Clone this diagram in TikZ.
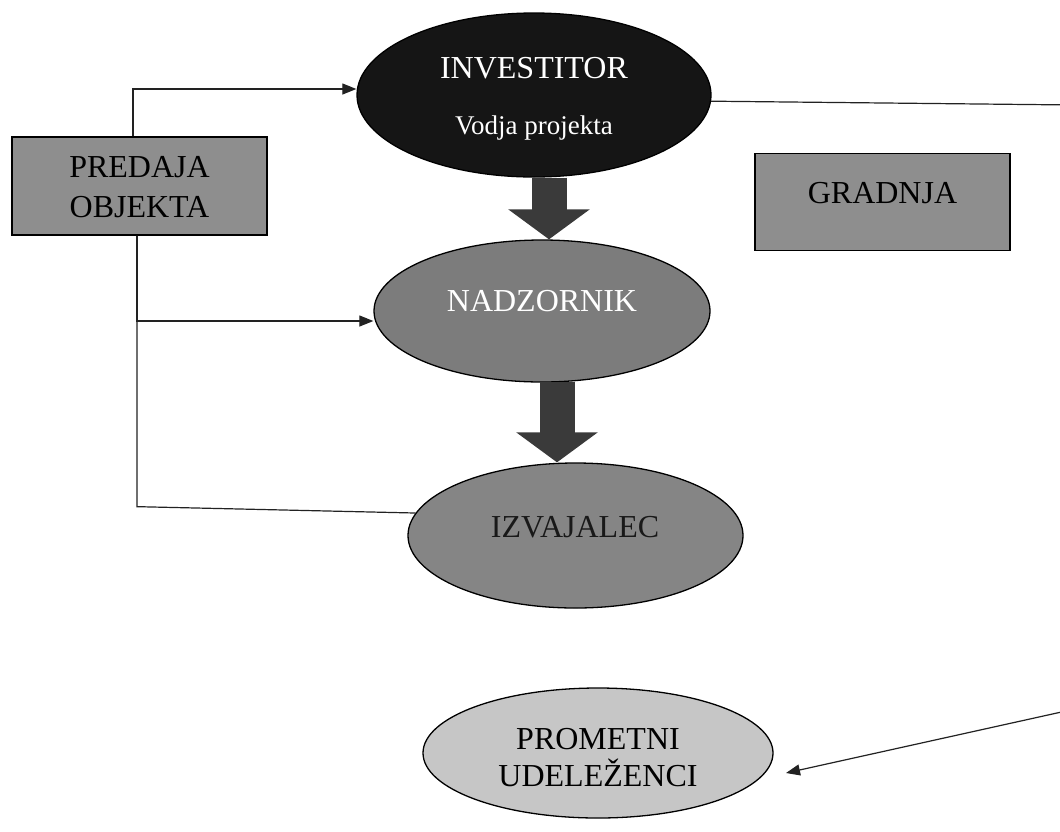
\documentclass[tikz,border=0pt]{standalone}
\usepackage{fontspec}
\setmainfont{Liberation Serif}
\usetikzlibrary{arrows.meta,shapes.geometric}
\definecolor{invfill}{HTML}{151515}
\definecolor{nadfill}{HTML}{7C7C7C}
\definecolor{izvfill}{HTML}{858585}
\definecolor{boxfill}{HTML}{8E8E8E}
\definecolor{promfill}{HTML}{C6C6C6}
\definecolor{bigarrow}{HTML}{3A3A3A}
\definecolor{linecol}{HTML}{222222}
\begin{document}
\begin{tikzpicture}[x=1pt,y=-1pt,
  oval/.style={ellipse,draw=black,line width=1.3pt,inner sep=0pt},
  box/.style={rectangle,draw=black,line width=1.3pt,inner sep=0pt,fill=boxfill},
  lbl/.style={anchor=base,inner sep=0pt,font=\fontsize{32}{40}\selectfont},
  conn/.style={draw=linecol,line width=1.2pt},
  tipend/.style={-{Triangle[length=14pt,width=11pt]}},
  thick arrow/.style={draw=bigarrow,line width=35pt,-{Triangle[length=30pt,width=80pt]}}]
\useasboundingbox (0,0) rectangle (1060,831);
\fill[white] (0,0) rectangle (1060,831);
\clip (0,0) rectangle (1060,831);

% shapes
\node[oval,fill=invfill,minimum width=354pt,minimum height=164pt] (inv) at (534,95) {};
\node[oval,fill=nadfill,minimum width=336pt,minimum height=142pt] (nad) at (542,311) {};
\node[oval,fill=izvfill,minimum width=335pt,minimum height=145pt] (izv) at (575.5,535.5) {};
\node[oval,fill=promfill,minimum width=350pt,minimum height=130pt] (prom) at (598,753) {};
\node[box,minimum width=255pt,minimum height=98pt] (pred) at (139.5,186) {};
\node[box,minimum width=255pt,minimum height=97pt] (grad) at (882.5,202) {};

% texts
\node[lbl,text=white] (invT) at (534,78) {INVESTITOR};
\node[lbl,text=white,font=\fontsize{27}{32}\selectfont] (invS) at (534,134) {Vodja projekta};
\node[lbl,text=white] (nadT) at (542,311) {NADZORNIK};
\node[lbl,text=black!90] (izvT) at (575,537) {IZVAJALEC};
\node[lbl] (predT1) at (139.5,177) {PREDAJA};
\node[lbl] (predT2) at (139.5,217) {OBJEKTA};
\node[lbl] (gradT) at (882.5,203) {GRADNJA};
\node[lbl] (promT1) at (598,749) {PROMETNI};
\node[lbl] (promT2) at (598,786) {UDELEŽENCI};

% thick arrows
\draw[thick arrow] ([xshift=15pt]inv.south) -- ([xshift=7pt]nad.north);
\draw[thick arrow] ([xshift=15pt,yshift=1pt]nad.south) -- ([xshift=-18.5pt]izv.north);

% thin connectors
\draw[conn,tipend] ([xshift=-6.5pt]pred.north) |- ([yshift=6pt]inv.west);
\draw[conn,tipend] ([xshift=-2.5pt]pred.south) |- ([yshift=-10pt]nad.west);
\draw[conn] ([xshift=-2.5pt]pred.south) -- ++(0,271) -- (izv.172);
\coordinate (promin) at (786,773);
\draw[conn,tipend] (inv.-2) -- (1075,105) -- (1075,709) -- (promin);
\end{tikzpicture}
\end{document}
